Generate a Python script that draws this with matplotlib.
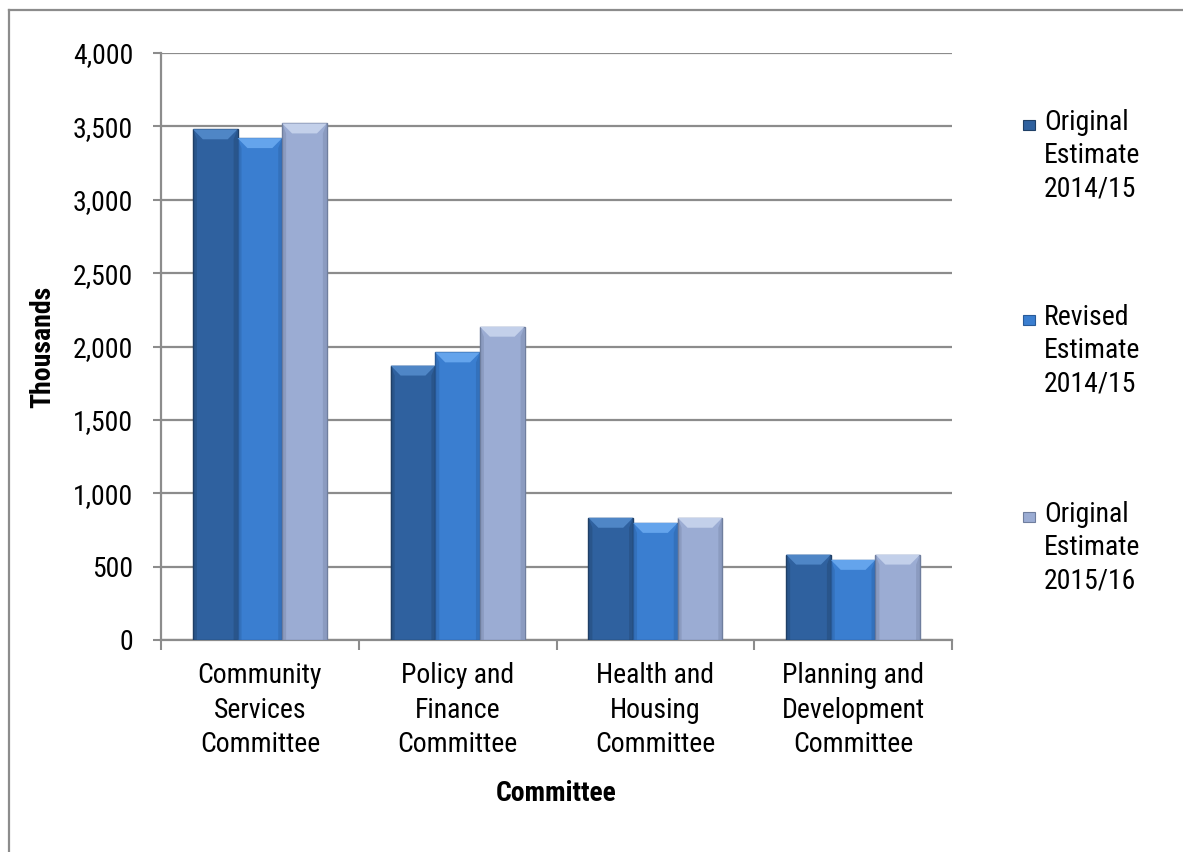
import matplotlib
matplotlib.use("Agg")
import matplotlib.pyplot as plt
from matplotlib import font_manager
import numpy as np
from matplotlib.patches import Polygon, Rectangle
from matplotlib.lines import Line2D

fam = 'Liberation Sans'
fs = 18
for cand, size in [('Liberation Sans Narrow', 20.5), ('Arial Narrow', 20.5),
                   ('Roboto Condensed', 20), ('Archivo Narrow', 20), ('PT Sans Narrow', 20)]:
    try:
        font_manager.findfont(cand, fallback_to_default=False)
        fam, fs = cand, size
        break
    except Exception:
        continue
plt.rcParams['font.family'] = [fam, 'DejaVu Sans']

categories = ["Community\nServices\nCommittee", "Policy and\nFinance\nCommittee",
              "Health and\nHousing\nCommittee", "Planning and\nDevelopment\nCommittee"]
series_names = ["Original\nEstimate\n2014/15", "Revised\nEstimate\n2014/15", "Original\nEstimate\n2015/16"]
orig_1415 = [3480, 1870, 833, 582]
rev_1415 = [3420, 1960, 798, 546]
orig_1516 = [3520, 2135, 833, 582]
series = [orig_1415, rev_1415, orig_1516]
yticks = [0, 500, 1000, 1500, 2000, 2500, 3000, 3500, 4000]

colors = ["#2F619F", "#3A7ED0", "#9BACD3"]
bevel_colors = ["#4F86C6", "#64A4EC", "#C3D0EA"]
edge_colors = ["#1F3F66", "#285A98", "#6F7E9E"]

fig = plt.figure(figsize=(11.83, 8.52), dpi=100)
ax = fig.add_axes([161/1183, 1-640/852, (952-161)/1183, (640-53)/852])

x = np.arange(len(categories))
w = 0.2256
ax.set_xlim(-0.5, len(categories) - 0.5)
ax.set_ylim(0, 4000)

for i, vals in enumerate(series):
    bars = ax.bar(x + (i - 1) * w, vals, width=w, color=colors[i],
                  edgecolor=edge_colors[i], linewidth=1.0, zorder=3)
    for b in bars:
        x0 = b.get_x(); x1 = x0 + b.get_width(); top = b.get_height()
        dx = 0.05; dy = 68
        ax.add_patch(Polygon([(x0, top), (x1, top), (x1 - dx, top - dy), (x0 + dx, top - dy)],
                             closed=True, facecolor=bevel_colors[i], edgecolor='none', zorder=4))
        ax.add_patch(Polygon([(x0, 0), (x0, top), (x0 + dx * 0.4, top - dy), (x0 + dx * 0.4, 0)],
                             closed=True, facecolor=edge_colors[i], alpha=0.35,
                             edgecolor='none', zorder=4))
        ax.add_patch(Polygon([(x1, 0), (x1, top), (x1 - dx * 0.4, top - dy), (x1 - dx * 0.4, 0)],
                             closed=True, facecolor=edge_colors[i], alpha=0.35,
                             edgecolor='none', zorder=4))

ax.set_yticks(yticks)
ax.set_yticklabels([f"{v:,}" for v in yticks], fontsize=fs)
ax.yaxis.grid(True, color="#8C8C8C", linewidth=1.6, zorder=0)
ax.set_axisbelow(True)

ax.set_xticks(x)
ax.set_xticklabels(categories, fontsize=fs, linespacing=1.35)
ax.set_xticks(np.arange(-0.5, len(categories)), minor=True)
ax.tick_params(axis='x', which='major', length=0, pad=16)
ax.tick_params(axis='x', which='minor', length=7, width=1.5, color="#8C8C8C", direction='out')
ax.tick_params(axis='y', length=6, width=1.5, color="#8C8C8C", pad=14)

for s in ['top', 'right']:
    ax.spines[s].set_visible(False)
for s in ['left', 'bottom']:
    ax.spines[s].set_color("#8C8C8C")
    ax.spines[s].set_linewidth(1.6)

ax.set_ylabel("Thousands", fontsize=fs, fontweight='bold', labelpad=12)
ax.set_xlabel("Committee", fontsize=fs, fontweight='bold', labelpad=16)

# Legend (manual)
tops = [115, 310, 507]
for i, name in enumerate(series_names):
    ytop = tops[i]
    fig.patches.append(Rectangle((1023/1183, 1 - (ytop + 15)/852), 12/1183, 10/852,
                                 transform=fig.transFigure, facecolor=colors[i],
                                 edgecolor=edge_colors[i], linewidth=0.8))
    fig.text(1044/1183, 1 - (ytop - 6)/852, name, fontsize=fs, va='top', ha='left',
             linespacing=1.3)

# Chart border (top and left)
fig.add_artist(Line2D([9/1183, 1], [1 - 10/852, 1 - 10/852], transform=fig.transFigure,
                      color="#8C8C8C", linewidth=1.6))
fig.add_artist(Line2D([9/1183, 9/1183], [0, 1 - 10/852], transform=fig.transFigure,
                      color="#8C8C8C", linewidth=1.6))

fig.savefig("out.png", dpi=100, facecolor="white")
